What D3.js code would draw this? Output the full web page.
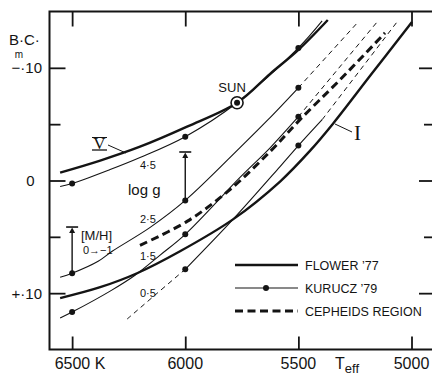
<!DOCTYPE html>
<html>
<head>
<meta charset="utf-8">
<script src="https://cdn.jsdelivr.net/npm/d3@7/dist/d3.min.js"></script>
<style>
  body { margin: 0; background: #fff; }
  svg { display: block; font-family: "Liberation Sans", Arial, sans-serif; }
</style>
</head>
<body>
<svg id="chart" width="432" height="375"></svg>
<script>
// axis ticks
const teffTicks = [6500, 6000, 5500, 5000];
const teffLabels = ["6500 K", "6000", "5500", "5000"];
const bcMajor = [-0.10, 0, 0.10];
const bcMinor = [-0.05, 0.05];
const bcLabels = ["−·10", "0", "+·10"];

// Flower '77, class V and class I (Teff in K, B.C. in mag)
const flowerVTeff = [6553, 6376, 6200, 5992, 5771, 5625, 5500, 5370];
const flowerVBC = [-0.007, -0.0177, -0.030, -0.0478, -0.069, -0.0947, -0.116, -0.1425];
const flowerITeff = [6553, 6376, 6213, 6023, 5789, 5581, 5448, 5347, 5183, 4998];
const flowerIBC = [0.1044, 0.0947, 0.0823, 0.0628, 0.0345, 0.0009, -0.0265, -0.0504, -0.0929, -0.1407];

// Kurucz '79 models by log g
const kuruczLogg = ["4·5", "2·5", "1·5", "0·5"];
const k45Teff = [6553, 6500, 6332, 6200, 6000, 5771, 5500, 5395];
const k45BC = [0.0053, 0.0027, -0.0097, -0.0204, -0.0389, -0.069, -0.1177, -0.1416];
const k25Teff = [6553, 6500, 6385, 6323, 6155, 6000, 5758, 5634, 5500, 5236];
const k25BC = [0.0858, 0.0823, 0.0717, 0.0628, 0.0416, 0.0177, -0.0292, -0.054, -0.0823, -0.1407];
const k15Teff = [6553, 6500, 6332, 6222, 6111, 6000, 5758, 5625, 5500, 5152];
const k15BC = [0.1221, 0.1168, 0.0982, 0.0841, 0.0662, 0.0478, -0.0027, -0.029, -0.0566, -0.1407];
const k05Teff = [6257, 6129, 6000, 5789, 5581, 5500, 5395, 5064];
const k05BC = [0.123, 0.1009, 0.0788, 0.0345, -0.0124, -0.031, -0.054, -0.1407];
// computed range of each model (dashed outside it), and grid points marked with dots
const kuruczSolidHi = [6553, 6553, 6553, 6000];
const kuruczSolidLo = [5395, 5500, 5500, 5395];
const kuruczGrid = [6500, 6000, 5500];

// Cepheids region
const cephTeff = [6200, 5992, 5802, 5625, 5493, 5316, 5117];
const cephBC = [0.0575, 0.0363, 0.008, -0.0257, -0.054, -0.0894, -0.131];

// Sun and the two annotation arrows
const sunTeff = 5771, sunBC = -0.069;
const loggArrowTeff = 6000, loggArrowBC = [0.0177, -0.0253];
const mhArrowTeff = 6500, mhArrowBC = [0.0823, 0.0413];

const svg = d3.select("#chart");
const ink = "#141414";

const x = d3.scaleLinear().domain([6600, 4905]).range([49.5, 433]);
const y = d3.scaleLinear().domain([-0.15, 0.15]).range([11.5, 349.5]);
const frameL = x(6600), frameR = x(4905), frameT = y(-0.15), frameB = y(0.15);

// frame
svg.append("path")
  .attr("d", `M${frameR},${frameT}H${frameL}V${frameB}H${frameR}`)
  .attr("fill", "none").attr("stroke", ink).attr("stroke-width", 2);

function styleAxis(g) {
  g.select(".domain").remove();
  g.selectAll("line").attr("stroke", ink).attr("stroke-width", 1.8);
}

svg.append("g").attr("transform", `translate(0,${frameT})`)
  .call(d3.axisTop(x).tickValues(teffTicks).tickSize(-15).tickFormat("")).call(styleAxis);
svg.append("g").attr("transform", `translate(0,${frameB})`)
  .call(d3.axisBottom(x).tickValues(teffTicks).tickSize(-13).tickFormat("")).call(styleAxis);
svg.append("g").attr("transform", `translate(${frameL},0)`)
  .call(d3.axisLeft(y).tickValues(bcMajor).tickSize(-16).tickFormat("")).call(styleAxis);
svg.append("g").attr("transform", `translate(${frameL},0)`)
  .call(d3.axisLeft(y).tickValues(bcMinor).tickSize(-11).tickFormat("")).call(styleAxis);
svg.append("g").attr("transform", `translate(${frameR},0)`)
  .call(d3.axisRight(y).tickValues(bcMajor).tickSize(-14).tickFormat("")).call(styleAxis);
svg.append("g").attr("transform", `translate(${frameR},0)`)
  .call(d3.axisRight(y).tickValues(bcMinor).tickSize(-9).tickFormat("")).call(styleAxis);

// tick labels
svg.selectAll(".xlab").data(teffTicks).enter().append("text")
  .attr("x", (d, i) => i === 0 ? x(d) - 17.5 : x(d))
  .attr("y", frameB + 19.5)
  .attr("text-anchor", (d, i) => i === 0 ? "start" : "middle")
  .attr("font-size", 16).attr("fill", ink)
  .text((d, i) => teffLabels[i]);

const teffTitle = svg.append("text").attr("x", 335).attr("y", frameB + 19.5)
  .attr("font-size", 16).attr("fill", ink);
teffTitle.append("tspan").text("T");
teffTitle.append("tspan").attr("dy", 4).attr("font-size", 13).text("eff");

svg.selectAll(".ylab").data(bcMajor).enter().append("text")
  .attr("x", d => d === 0 ? 34.5 : 42)
  .attr("y", d => y(d) + 5.5)
  .attr("text-anchor", "end")
  .attr("font-size", 15).attr("fill", ink)
  .text((d, i) => bcLabels[i]);

svg.append("text").attr("x", 9).attr("y", 45).attr("font-size", 15).attr("fill", ink).text("B·C·");
svg.append("text").attr("x", 19).attr("y", 58).attr("text-anchor", "middle")
  .attr("font-size", 10).attr("fill", ink).text("m");

// curves
const pts = (ts, bs) => ts.map((t, i) => [t, bs[i]]);
const line = d3.line().x(d => x(d[0])).y(d => y(d[1])).curve(d3.curveCatmullRom.alpha(0.5));

function drawCurve(p, width, dash) {
  svg.append("path").attr("d", line(p))
    .attr("fill", "none").attr("stroke", ink)
    .attr("stroke-width", width)
    .attr("stroke-dasharray", dash || null)
    .attr("stroke-linejoin", "round");
}

drawCurve(pts(flowerVTeff, flowerVBC), 2.4);
drawCurve(pts(flowerITeff, flowerIBC), 2.4);

const kurucz = [
  pts(k45Teff, k45BC), pts(k25Teff, k25BC), pts(k15Teff, k15BC), pts(k05Teff, k05BC)
];
kurucz.forEach((p, i) => {
  const hi = kuruczSolidHi[i], lo = kuruczSolidLo[i];
  const solid = p.filter(d => d[0] <= hi && d[0] >= lo);
  const before = p.filter(d => d[0] >= hi);
  const after = p.filter(d => d[0] <= lo);
  drawCurve(solid, 1.1);
  if (before.length > 1) drawCurve(before, 1, "5,4");
  if (after.length > 1) drawCurve(after, 1, "5,4");
  svg.selectAll(null).data(p.filter(d => kuruczGrid.includes(d[0]))).enter()
    .append("circle")
    .attr("cx", d => x(d[0])).attr("cy", d => y(d[1])).attr("r", 3)
    .attr("fill", ink);
});

drawCurve(pts(cephTeff, cephBC), 3, "8,4.5");

// log g labels
const loggLabelY = [169, 223, 260, 297];
kuruczLogg.forEach((s, i) => {
  svg.append("text").attr("x", 140).attr("y", loggLabelY[i])
    .attr("font-size", 11).attr("fill", ink).text(s);
});
svg.append("text").attr("x", 128).attr("y", 195).attr("font-size", 15).attr("fill", ink).text("log g");

// arrows
function drawArrow(teff, bcs) {
  const ax = x(teff), y0 = y(bcs[0]), y1 = y(bcs[1]);
  svg.append("line").attr("x1", ax).attr("x2", ax).attr("y1", y0).attr("y2", y1 + 4)
    .attr("stroke", ink).attr("stroke-width", 1.4);
  svg.append("line").attr("x1", ax - 6).attr("x2", ax + 6).attr("y1", y1).attr("y2", y1)
    .attr("stroke", ink).attr("stroke-width", 1.6);
  svg.append("path").attr("d", `M${ax},${y1 + 0.5}L${ax - 3},${y1 + 6}L${ax + 3},${y1 + 6}Z`)
    .attr("fill", ink);
}
drawArrow(loggArrowTeff, loggArrowBC);
drawArrow(mhArrowTeff, mhArrowBC);

svg.append("text").attr("x", 81).attr("y", 240).attr("font-size", 13).attr("fill", ink).text("[M/H]");
svg.append("text").attr("x", 83).attr("y", 254).attr("font-size", 11).attr("fill", ink).text("0→−1");

// Sun
svg.append("circle").attr("cx", x(sunTeff)).attr("cy", y(sunBC)).attr("r", 6)
  .attr("fill", "#fff").attr("stroke", ink).attr("stroke-width", 1.6);
svg.append("circle").attr("cx", x(sunTeff)).attr("cy", y(sunBC)).attr("r", 3).attr("fill", ink);
svg.append("text").attr("x", x(sunTeff) - 5).attr("y", y(sunBC) - 11).attr("text-anchor", "middle")
  .attr("font-size", 13).attr("fill", ink).text("SUN");

// luminosity class labels
svg.append("text").attr("x", 99.5).attr("y", 149).attr("text-anchor", "middle")
  .attr("font-family", "Liberation Serif, serif").attr("font-size", 17).attr("fill", ink).text("V");
svg.append("line").attr("x1", 92).attr("x2", 107).attr("y1", 137.5).attr("y2", 137.5)
  .attr("stroke", ink).attr("stroke-width", 1);
svg.append("line").attr("x1", 92).attr("x2", 107).attr("y1", 150).attr("y2", 150)
  .attr("stroke", ink).attr("stroke-width", 1.3);
svg.append("line").attr("x1", 108).attr("x2", 126).attr("y1", 145).attr("y2", 153)
  .attr("stroke", ink).attr("stroke-width", 1);
svg.append("text").attr("x", 357.5).attr("y", 140).attr("text-anchor", "middle")
  .attr("font-family", "Liberation Serif, serif").attr("font-size", 21).attr("fill", ink).text("I");
svg.append("line").attr("x1", 335).attr("x2", 352).attr("y1", 124).attr("y2", 132)
  .attr("stroke", ink).attr("stroke-width", 1);

// legend
const legendNames = ["FLOWER ’77", "KURUCZ ’79", "CEPHEIDS REGION"];
const legendY = [265, 288, 311];
const legendWidth = [2.4, 1.1, 3];
const legendDash = [null, null, "8,4.5"];
legendNames.forEach((name, i) => {
  svg.append("line").attr("x1", 235).attr("x2", 298).attr("y1", legendY[i]).attr("y2", legendY[i])
    .attr("stroke", ink).attr("stroke-width", legendWidth[i]).attr("stroke-dasharray", legendDash[i]);
  if (i === 1) svg.append("circle").attr("cx", 266).attr("cy", legendY[i]).attr("r", 3).attr("fill", ink);
  svg.append("text").attr("x", 305).attr("y", legendY[i] + 4.5)
    .attr("font-size", 12.5).attr("fill", ink).text(name);
});
</script>
</body>
</html>
